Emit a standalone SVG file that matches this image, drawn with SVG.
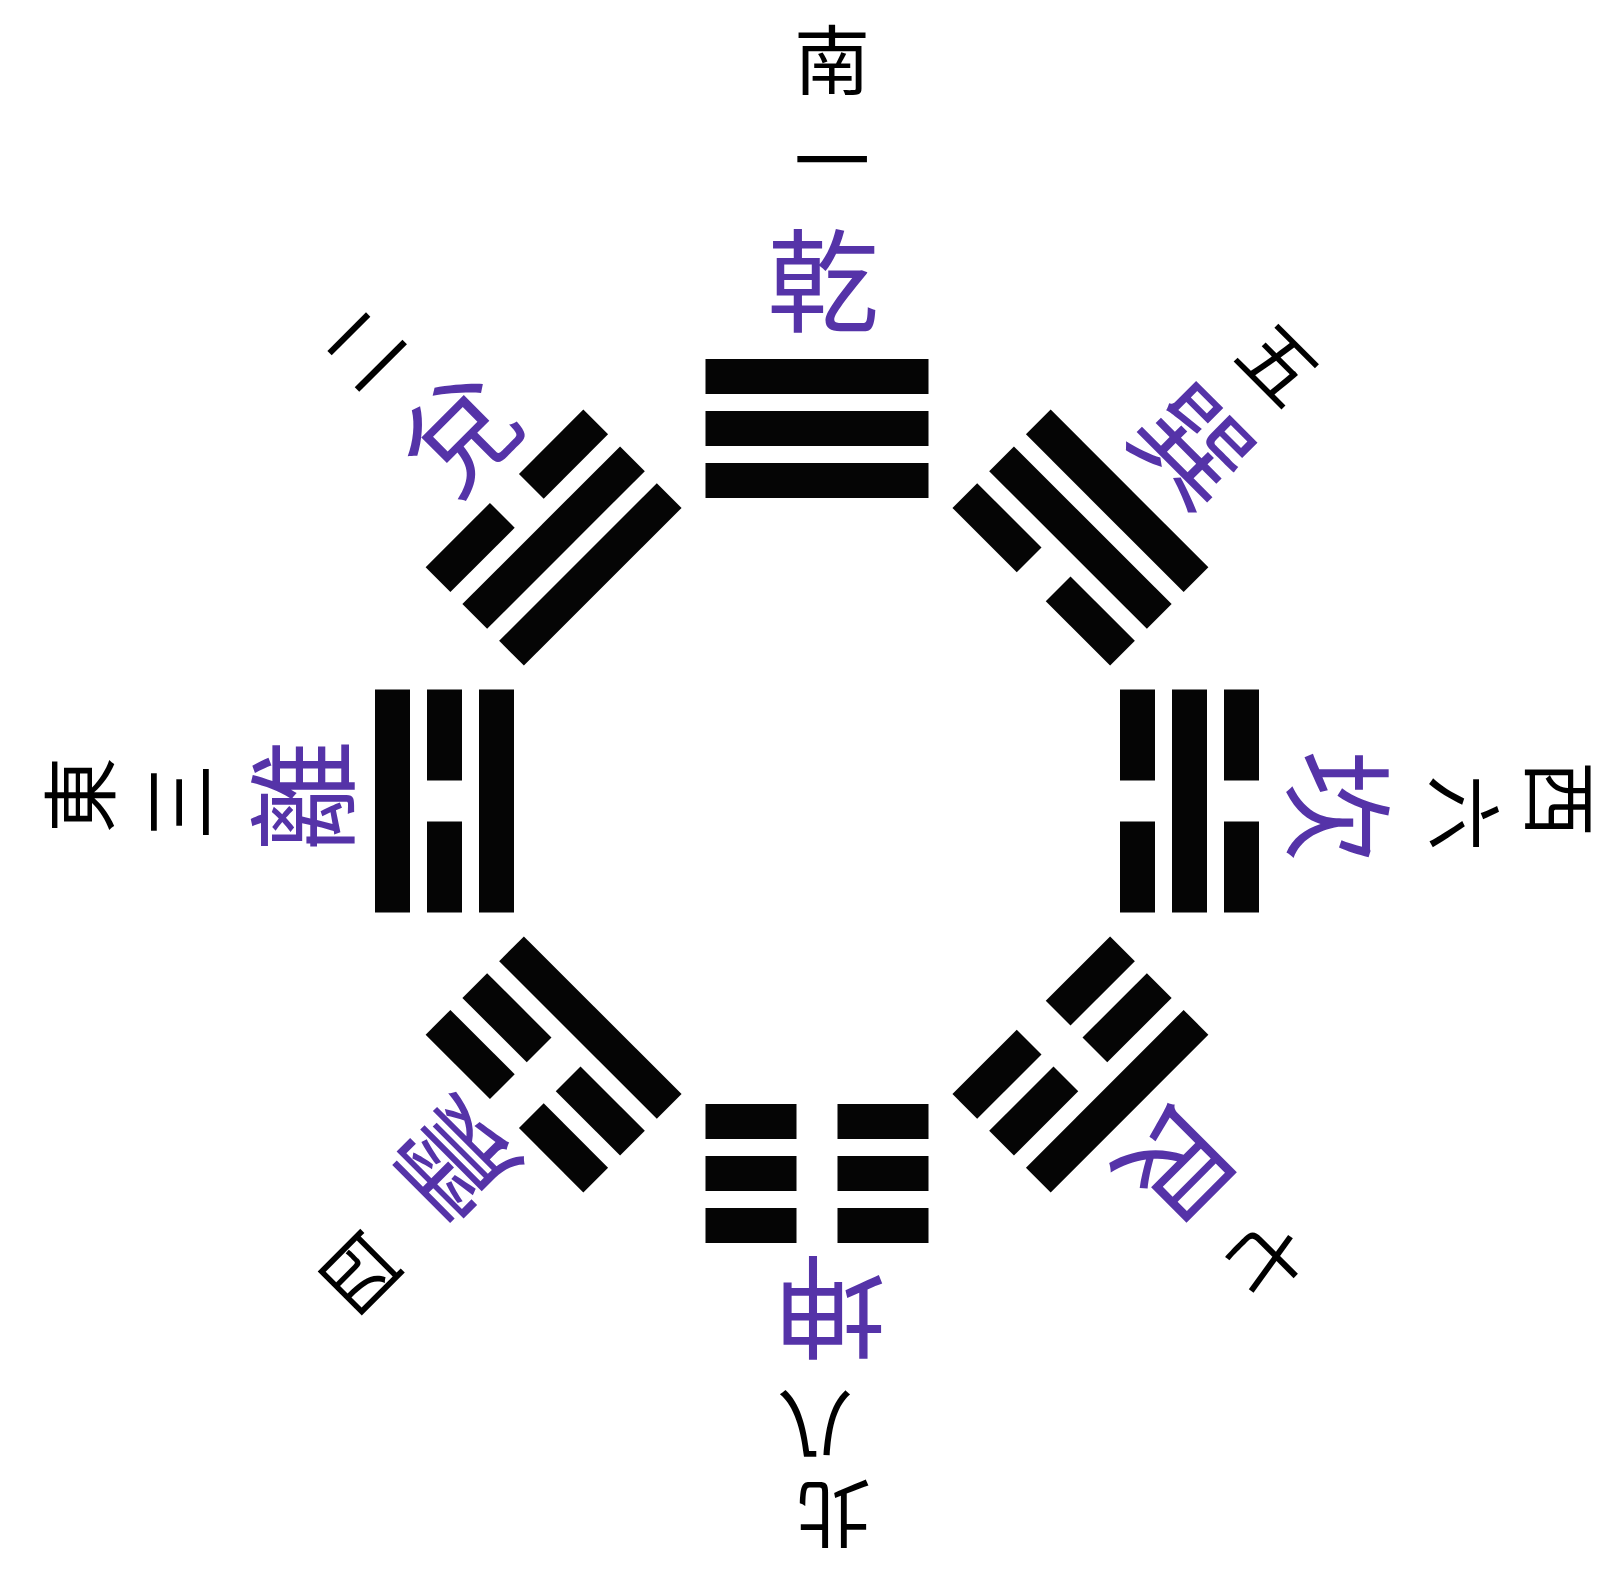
<svg xmlns="http://www.w3.org/2000/svg" xmlns:xlink="http://www.w3.org/1999/xlink" width="1619" height="1570" viewBox="0 0 1619 1570">
<style>
.bar{fill:#050505}
.gua{font-family:"Noto Sans CJK TC","Noto Sans CJK SC",sans-serif;font-size:112px;fill:#5533a8;text-anchor:middle;dominant-baseline:central}
.lbl{font-family:"Noto Sans CJK TC","Noto Sans CJK SC",sans-serif;font-size:76px;fill:#000;text-anchor:middle;dominant-baseline:central}
</style>
<defs>
<rect id="yang" class="bar" x="-111.5" y="0" width="223" height="35"/>
<g id="yin"><rect class="bar" x="-111.5" y="0" width="91" height="35"/><rect class="bar" x="20.5" y="0" width="91" height="35"/></g>
</defs>
<rect width="1619" height="1570" fill="#fff"/>

<g id="qian">
<g transform="translate(817,801) rotate(0)"><use href="#yang" y="-338"/><use href="#yang" y="-390"/><use href="#yang" y="-442"/></g>
<text class="gua" transform="translate(823,282) translate(0,-7)">乾</text>
<text class="lbl" transform="translate(832,162) translate(0,-6)">一</text>
<text class="lbl" transform="translate(832,62) translate(0,-6)">南</text>
</g>

<g id="xun">
<g transform="translate(817,801) rotate(45)"><use href="#yin" y="-338"/><use href="#yang" y="-390"/><use href="#yang" y="-442"/></g>
<text class="gua" transform="translate(1193,446) rotate(45) translate(0,-7)">巽</text>
<text class="lbl" transform="translate(1278,365) rotate(45) translate(0,-6)">五</text>
</g>

<g id="kan">
<g transform="translate(817,801) rotate(90)"><use href="#yin" y="-338"/><use href="#yang" y="-390"/><use href="#yin" y="-442"/></g>
<text class="gua" transform="translate(1337,806) rotate(90) translate(0,-7)">坎</text>
<text class="lbl" transform="translate(1462,813) rotate(90) translate(0,-6)">六</text>
<text class="lbl" transform="translate(1558,799) rotate(90) translate(0,-6)">西</text>
</g>

<g id="gen">
<g transform="translate(817,801) rotate(135)"><use href="#yin" y="-338"/><use href="#yin" y="-390"/><use href="#yang" y="-442"/></g>
<text class="gua" transform="translate(1178,1165) rotate(135) translate(0,-7)">艮</text>
<text class="lbl" transform="translate(1264,1258) rotate(135) translate(0,-6)">七</text>
</g>

<g id="kun">
<g transform="translate(817,801) rotate(180)"><use href="#yin" y="-338"/><use href="#yin" y="-390"/><use href="#yin" y="-442"/></g>
<text class="gua" transform="translate(830,1307) rotate(180) translate(0,-7)">坤</text>
<text class="lbl" transform="translate(815,1424) rotate(180) translate(0,-6)">八</text>
<text class="lbl" transform="translate(833,1512) rotate(180) translate(0,-6)">北</text>
</g>

<g id="zhen">
<g transform="translate(817,801) rotate(225)"><use href="#yang" y="-338"/><use href="#yin" y="-390"/><use href="#yin" y="-442"/></g>
<text class="gua" transform="translate(455,1160) rotate(225) translate(0,-7)">震</text>
<text class="lbl" transform="translate(361,1272) rotate(225) translate(0,-6)">四</text>
</g>

<g id="li">
<g transform="translate(817,801) rotate(270)"><use href="#yang" y="-338"/><use href="#yin" y="-390"/><use href="#yang" y="-442"/></g>
<text class="gua" transform="translate(304,796) rotate(270) translate(0,-7)">離</text>
<text class="lbl" transform="translate(181,802) rotate(270) translate(0,-6)">三</text>
<text class="lbl" transform="translate(82,795) rotate(270) translate(0,-6)">東</text>
</g>

<g id="dui">
<g transform="translate(817,801) rotate(315)"><use href="#yang" y="-338"/><use href="#yang" y="-390"/><use href="#yin" y="-442"/></g>
<text class="gua" transform="translate(460,434) rotate(315) translate(0,-7)">兌</text>
<text class="lbl" transform="translate(365,350) rotate(315) translate(0,-6)">二</text>
</g>
</svg>
